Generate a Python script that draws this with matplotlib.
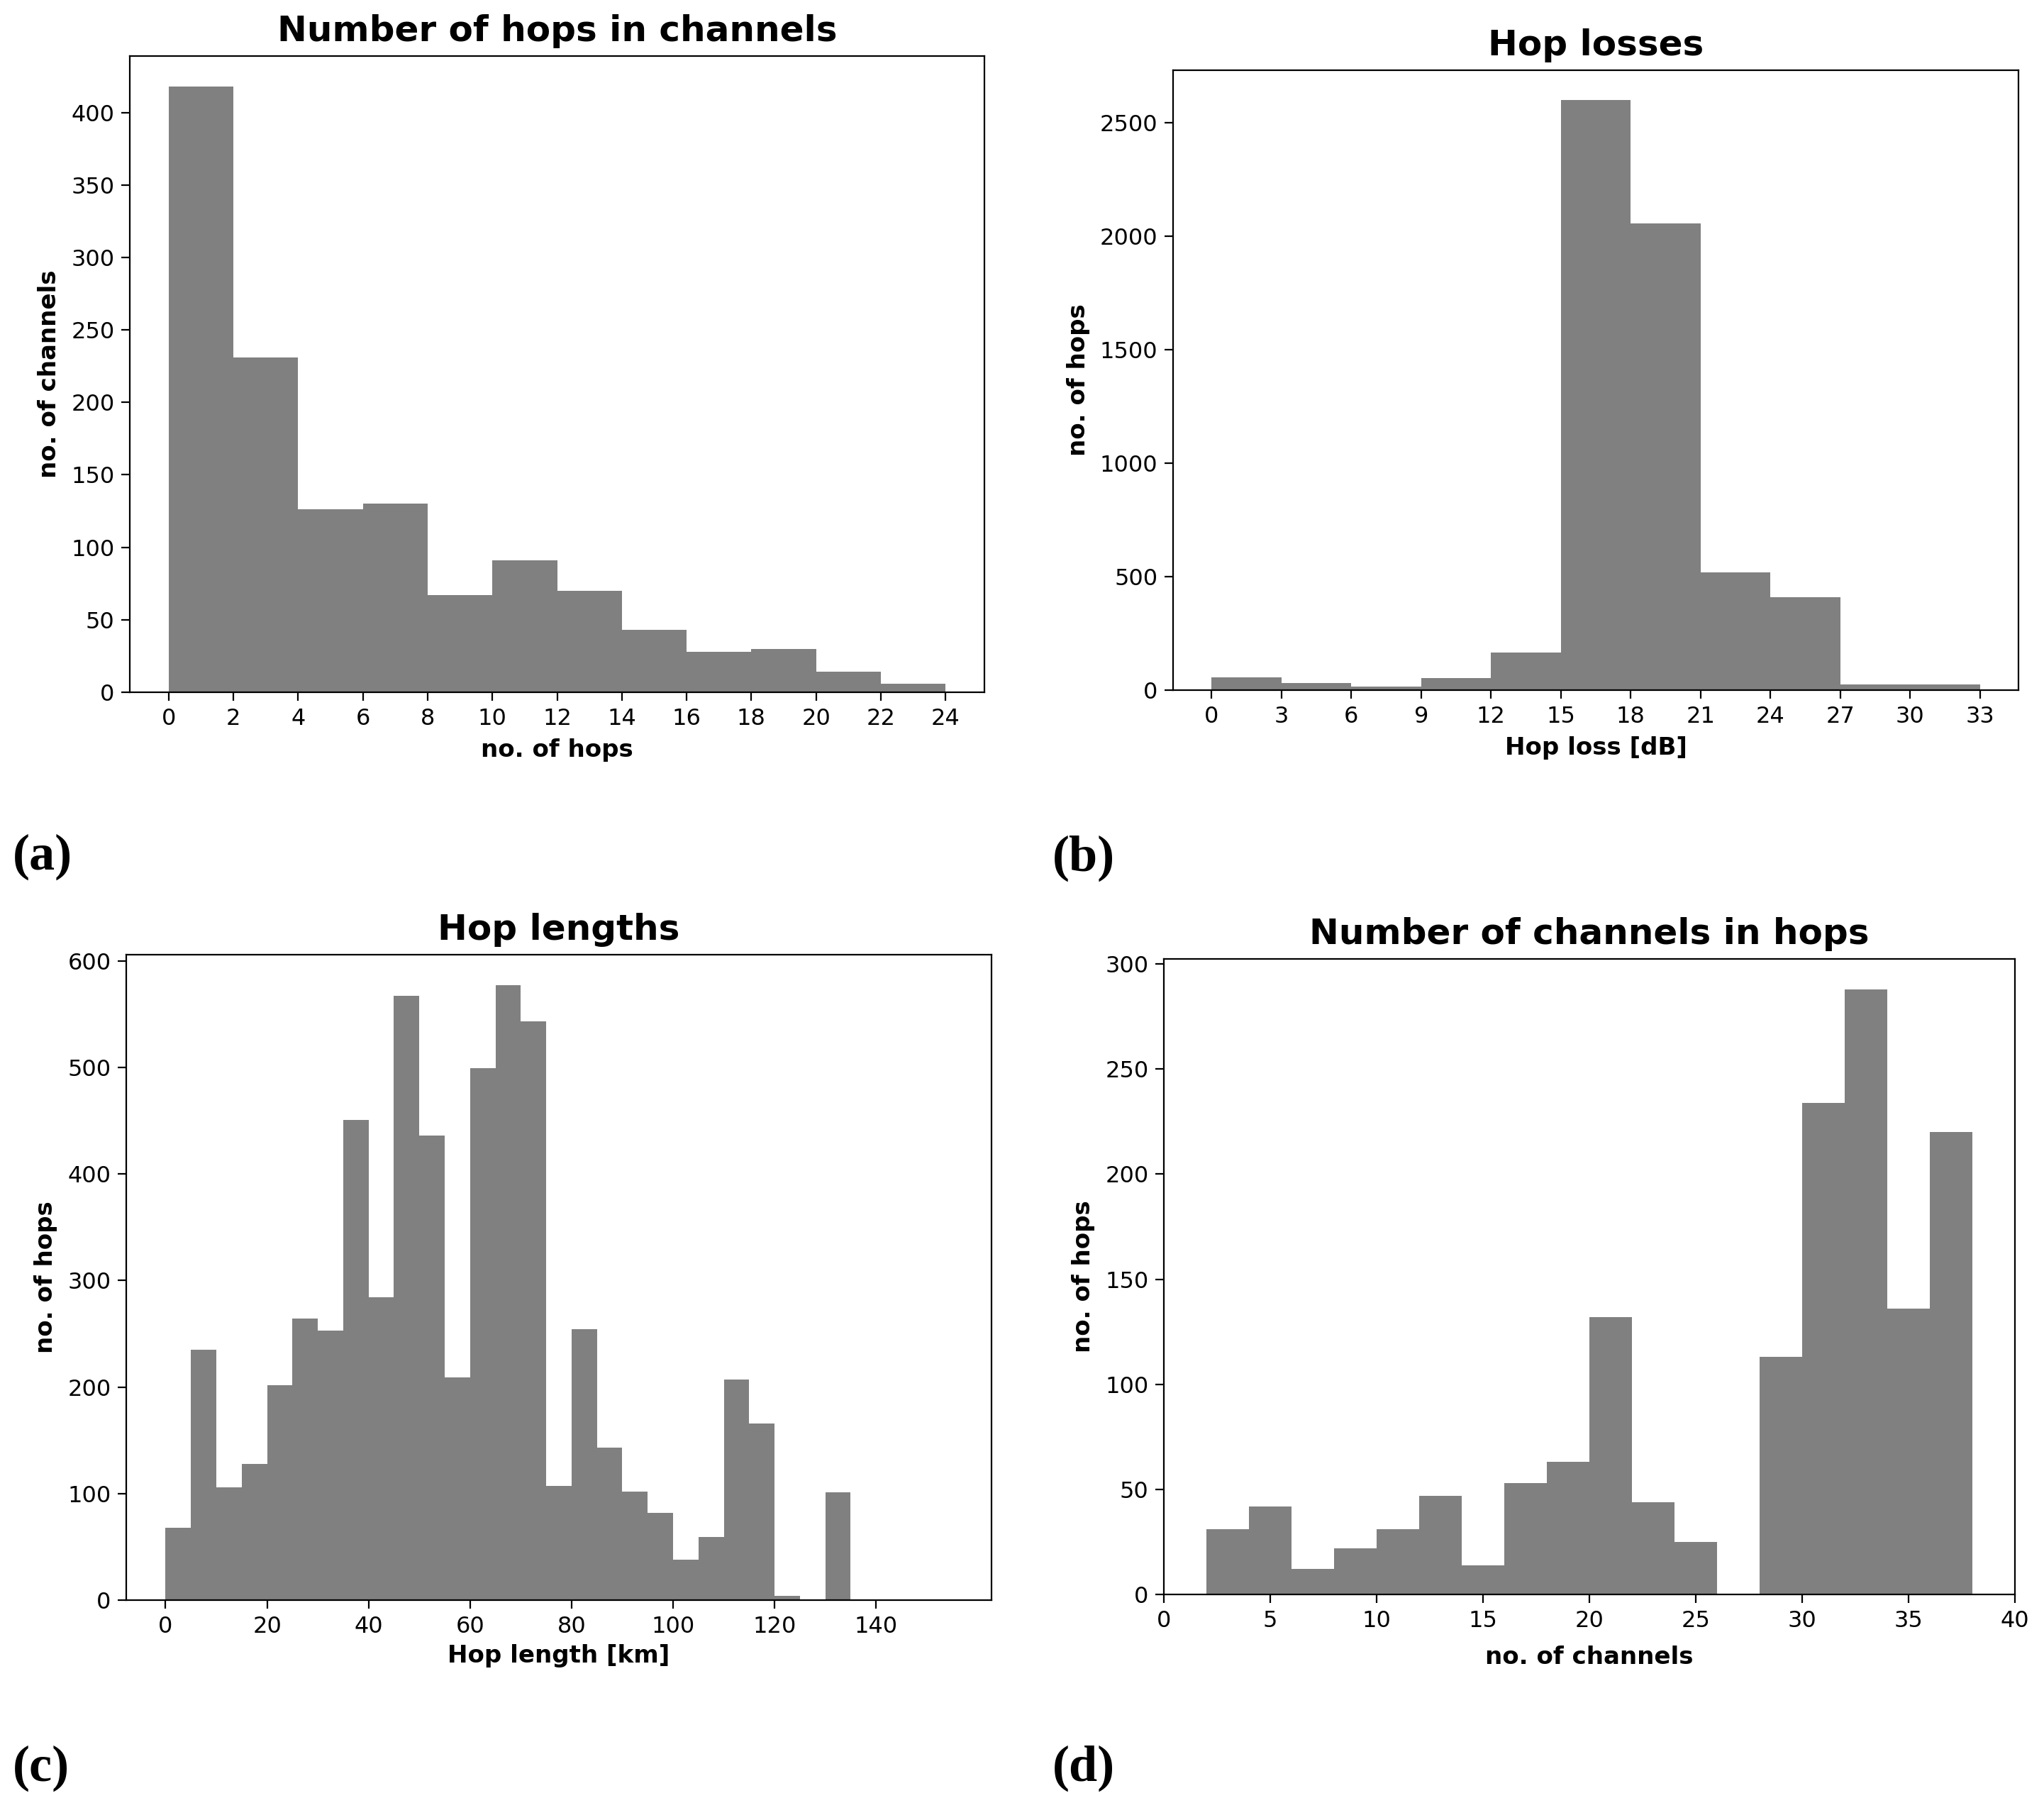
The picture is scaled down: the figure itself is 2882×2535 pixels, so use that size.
import numpy as np
import matplotlib
matplotlib.use('Agg')
import matplotlib.pyplot as plt

# histogram counts
hops_bins = np.arange(0, 26, 2)
hops_counts = [418, 231, 126, 130, 67, 91, 70, 43, 28, 30, 14, 6]

loss_bins = np.arange(0, 36, 3)
loss_counts = [55, 30, 15, 53, 165, 2600, 2055, 520, 410, 25, 25]

length_bins = np.arange(0, 160, 5)
length_counts = [68, 235, 106, 128, 202, 264, 253, 451, 284, 567, 436, 209,
                 499, 577, 543, 107, 254, 143, 102, 82, 38, 59, 207, 166,
                 4, 0, 101, 0, 0, 0, 0]

chan_bins = np.arange(2, 40, 2)
chan_counts = [31, 42, 12, 22, 31, 47, 14, 53, 63, 132, 44, 25, 0,
               113, 234, 288, 136, 220]

W, H = 2882, 2535
fig = plt.figure(figsize=(W / 100, H / 100), dpi=100)

plt.rcParams['font.family'] = 'DejaVu Sans'
tick_fs = 23
lab_fs = 24.5
title_fs = 36


def box(l, t, r, b):
    return [l / W, 1 - b / H, (r - l) / W, (b - t) / H]


def style(ax):
    for s in ax.spines.values():
        s.set_linewidth(1.6)
    ax.tick_params(labelsize=tick_fs, length=8.5, width=1.6, pad=7)


def hist_panel(rect, bins, counts, title, xlabel, ylabel, xpad=9):
    ax = fig.add_axes(rect)
    ax.hist(bins[:-1], bins=bins, weights=counts, color='gray')
    ax.set_title(title, fontsize=title_fs, fontweight='bold', pad=15)
    ax.set_xlabel(xlabel, fontsize=lab_fs, fontweight='bold', labelpad=xpad)
    ax.set_ylabel(ylabel, fontsize=lab_fs, fontweight='bold', labelpad=10)
    style(ax)
    return ax


ax1 = hist_panel(box(183, 79, 1388, 976), hops_bins, hops_counts,
                 'Number of hops in channels', 'no. of hops', 'no. of channels')
ax1.set_xticks(np.arange(0, 26, 2))

ax2 = hist_panel(box(1654, 99, 2846, 973), loss_bins, loss_counts,
                 'Hop losses', 'Hop loss [dB]', 'no. of hops')
ax2.set_xticks(np.arange(0, 36, 3))

ax3 = hist_panel(box(178, 1346, 1398, 2256), length_bins, length_counts,
                 'Hop lengths', 'Hop length [km]', 'no. of hops', xpad=7)
ax3.set_xticks(np.arange(0, 160, 20))

ax4 = hist_panel(box(1641, 1352, 2841, 2248), chan_bins, chan_counts,
                 'Number of channels in hops', 'no. of channels', 'no. of hops',
                 xpad=14)
ax4.set_xlim(0, 40)

# panel letters
for txt, x, y in [('(a)', 18, 1208), ('(b)', 1484, 1210),
                  ('(c)', 18, 2493), ('(d)', 1484, 2493)]:
    fig.text(x / W, 1 - y / H, txt, fontsize=52, fontweight='bold',
             family='Liberation Serif', va='center', ha='left')

fig.savefig('out.png', dpi=100)
